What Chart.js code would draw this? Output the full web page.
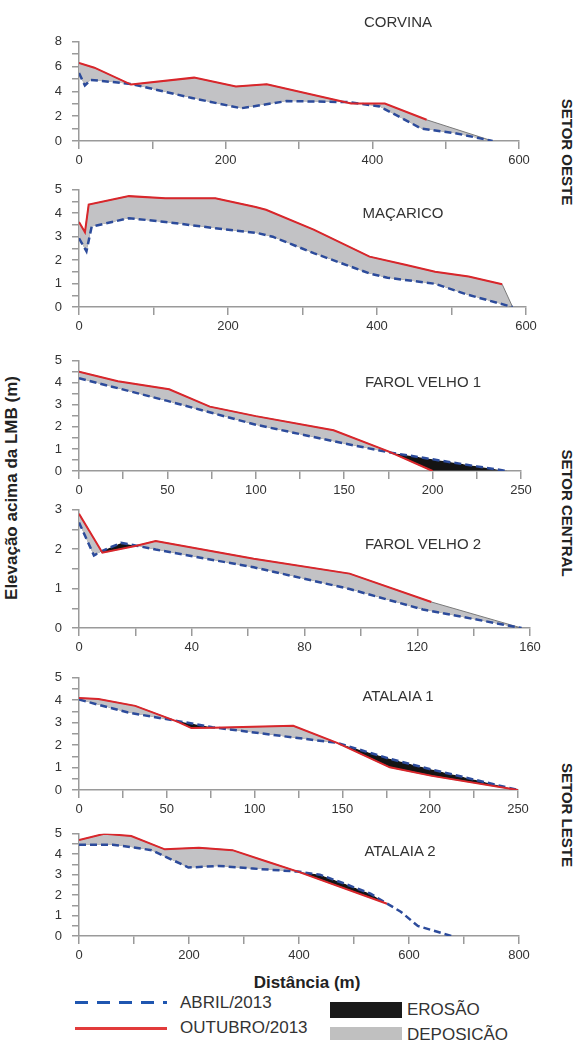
<!DOCTYPE html>
<html>
<head>
<meta charset="utf-8">
<script src="https://cdn.jsdelivr.net/npm/chart.js@4.4.1/dist/chart.umd.min.js"></script>
<style>
  body { margin: 0; background: #fff; font-family: "Liberation Sans", Arial, sans-serif; color: #333; }
  #page { position: relative; width: 579px; height: 1040px; overflow: hidden; }
  .panel { position: absolute; }
  .txt { position: absolute; white-space: nowrap; transform: translate(-50%, -50%); }
  .title { font-size: 15px; color: #333; }
  .side { font-size: 15px; font-weight: bold; color: #222; transform: translate(-50%, -50%) rotate(90deg); }
  .leg { position: absolute; white-space: nowrap; font-size: 17px; color: #333; transform: translateY(-50%); }
</style>
</head>
<body>
<div id="page">
  <div class="panel"><canvas id="c1"></canvas></div>
  <div class="panel"><canvas id="c2"></canvas></div>
  <div class="panel"><canvas id="c3"></canvas></div>
  <div class="panel"><canvas id="c4"></canvas></div>
  <div class="panel"><canvas id="c5"></canvas></div>
  <div class="panel"><canvas id="c6"></canvas></div>

  <div class="txt title" style="left:398px; top:21px;">CORVINA</div>
  <div class="txt title" style="left:403px; top:212px;">MAÇARICO</div>
  <div class="txt title" style="left:423px; top:381px;">FAROL VELHO 1</div>
  <div class="txt title" style="left:423px; top:543px;">FAROL VELHO 2</div>
  <div class="txt title" style="left:398px; top:695px;">ATALAIA 1</div>
  <div class="txt title" style="left:400px; top:850px;">ATALAIA 2</div>

  <div class="txt side" style="left:567px; top:152px;">SETOR OESTE</div>
  <div class="txt side" style="left:567px; top:513px;">SETOR CENTRAL</div>
  <div class="txt side" style="left:567px; top:815px;">SETOR LESTE</div>

  <div class="txt" style="left:12px; top:488px; font-size:17px; font-weight:bold; color:#222; transform:translate(-50%,-50%) rotate(-90deg);">Elevação acima da LMB (m)</div>
  <div class="txt" style="left:307px; top:983px; font-size:17px; font-weight:bold; color:#222;">Distância (m)</div>

  <div style="position:absolute; left:75px; top:1001px; width:92px; height:3px; background:repeating-linear-gradient(to right, #1f56b0 0 13px, transparent 13px 22px);"></div>
  <div style="position:absolute; left:75px; top:1027px; width:92px; height:3px; background:#e23b3b;"></div>
  <div style="position:absolute; left:330px; top:1002px; width:72px; height:16px; background:#1a1a1a;"></div>
  <div style="position:absolute; left:330px; top:1027px; width:72px; height:16px; background:#c0c0c0;"></div>
  <div class="leg" style="left:180px; top:1003px;">ABRIL/2013</div>
  <div class="leg" style="left:180px; top:1028px;">OUTUBRO/2013</div>
  <div class="leg" style="left:407px; top:1010px;">EROSÃO</div>
  <div class="leg" style="left:407px; top:1035px;">DEPOSIÇÃO</div>
</div>

<script>
// Profiles: [distance (m), elevation (m)]
const corvinaAbril = [[0,5.48],[8,4.48],[16,4.93],[71,4.6],[154,3.47],[221,2.64],[283,3.22],[366,3.14],[410,2.79],[467,1.0],[513,0.63],[564,0]];
const corvinaOutubro = [[0,6.29],[21,5.91],[71,4.55],[157,5.11],[214,4.4],[256,4.58],[371,3.02],[417,3.02],[474,1.71]];
const corvinaEnd = [[564,0]];

const macaricoAbril = [[0,2.93],[10,2.38],[17,3.43],[67,3.79],[116,3.63],[183,3.36],[240,3.15],[260,3.0],[315,2.3],[390,1.43],[414,1.25],[478,0.99],[519,0.55],[582,0]];
const macaricoOutubro = [[0,3.63],[8,3.19],[13,4.37],[67,4.73],[116,4.64],[183,4.64],[237,4.27],[251,4.15],[315,3.3],[390,2.15],[438,1.8],[478,1.5],[523,1.3],[568,0.97]];
const macaricoEnd = [[582,0]];

const farol1Abril = [[0,4.21],[50,3.18],[100,2.1],[150,1.25],[175,0.85],[200,0.53],[225,0.21],[242,0]];
const farol1Outubro = [[0,4.51],[22,4.07],[51,3.71],[74,2.92],[100,2.49],[144,1.85],[175,0.89],[200,0]];
const farol1End = [[242,0]];

const farol2Abril = [[0,2.68],[5.3,1.84],[8.3,1.96],[14.9,2.16],[20.4,2.09],[27.2,1.99],[62,1.54],[96,0.99],[122,0.47],[157,0]];
const farol2Outubro = [[0,2.9],[8.3,1.91],[20.4,2.09],[27.2,2.21],[62,1.76],[96,1.38],[125,0.66]];
const farol2End = [[157,0]];

const atalaia1Abril = [[0,4.03],[28,3.45],[55,3.09],[76,2.8],[122,2.34],[147,2.1],[177,1.39],[201,0.91],[250,0]];
const atalaia1Outubro = [[0,4.1],[11,4.06],[32,3.75],[56,3.05],[64,2.76],[76,2.77],[122,2.86],[147,2.1],[177,1.01],[201,0.63],[250,0]];
const atalaia1End = [];

const atalaia2Abril = [[0,4.46],[61,4.46],[95,4.35],[132,4.2],[199,3.35],[254,3.43],[316,3.3],[398,3.15],[438,3.0],[481,2.58],[530,2.07],[561,1.57],[585,1.19],[616,0.49],[677,0]];
const atalaia2Outubro = [[0,4.69],[46,5.0],[95,4.89],[156,4.24],[218,4.32],[279,4.2],[340,3.66],[398,3.15],[560,1.58]];
const atalaia2End = [];

const blue = '#2c4b9b';
const red = '#d9262b';
const grey = '#c2c2c5';
const black = '#141414';
const axisGrey = '#9a9a9a';

const toXY = arr => arr.map(p => ({ x: p[0], y: p[1] }));

function makePanel(id, cfg) {
    const canvas = document.getElementById(id);
    const box = canvas.parentNode;
    const padTop = 10, padRight = 16, yW = 39, xH = 28;
    box.style.left = '40px';
    box.style.top = (cfg.top - padTop) + 'px';
    box.style.width = (cfg.right - 40 + padRight) + 'px';
    box.style.height = (cfg.bottom - cfg.top + padTop + xH) + 'px';

    return new Chart(canvas.getContext('2d'), {
        type: 'line',
        data: {
            datasets: [
                {
                    label: 'OUTUBRO/2013',
                    data: toXY(cfg.outubro),
                    borderColor: red,
                    borderWidth: 2,
                    fill: false
                },
                {
                    label: 'ABRIL/2013',
                    data: toXY(cfg.abril),
                    borderColor: blue,
                    borderWidth: 2.5,
                    borderDash: [7, 4],
                    fill: false
                },
                {
                    // outline of the difference polygon (red profile + closing point)
                    label: 'area',
                    data: toXY(cfg.outubro.concat(cfg.end)),
                    borderColor: '#7a7a7a',
                    borderWidth: 1,
                    backgroundColor: grey,
                    fill: { target: 1, above: grey, below: black }
                }
            ]
        },
        options: {
            animation: false,
            responsive: true,
            maintainAspectRatio: false,
            layout: { padding: { top: padTop, right: padRight, left: 0, bottom: 0 } },
            elements: { point: { radius: 0 }, line: { tension: 0 } },
            plugins: { legend: { display: false }, tooltip: { enabled: false } },
            scales: {
                x: {
                    type: 'linear',
                    min: 0,
                    max: cfg.xMax,
                    afterFit: s => { s.height = xH; },
                    border: { display: true, color: axisGrey, width: 1.5 },
                    grid: { display: true, drawOnChartArea: false, drawTicks: true, tickLength: 8, color: axisGrey, lineWidth: 1.5 },
                    ticks: {
                        stepSize: cfg.xStep,
                        autoSkip: false,
                        maxRotation: 0,
                        padding: 4,
                        color: '#333',
                        font: { family: 'Liberation Sans', size: 13 },
                        callback: v => (Math.abs(v % cfg.xLabel) < 1e-6 ? v : '')
                    }
                },
                y: {
                    min: 0,
                    max: cfg.yMax,
                    afterFit: s => { s.width = yW; },
                    border: { display: true, color: axisGrey, width: 1.5 },
                    grid: { display: true, drawOnChartArea: false, drawTicks: true, tickLength: 7, color: axisGrey, lineWidth: 1.5 },
                    ticks: {
                        stepSize: cfg.yStep,
                        autoSkip: false,
                        padding: 10,
                        color: '#333',
                        font: { family: 'Liberation Sans', size: 13 },
                        callback: v => (Math.abs(v % cfg.yLabel) < 1e-6 ? v : '')
                    }
                }
            }
        }
    });
}

makePanel('c1', { top: 34, bottom: 141, right: 519, xMax: 600, xStep: 100, xLabel: 200, yMax: 8, yStep: 1, yLabel: 2,
    abril: corvinaAbril, outubro: corvinaOutubro, end: corvinaEnd });
makePanel('c2', { top: 182, bottom: 307, right: 526, xMax: 600, xStep: 100, xLabel: 200, yMax: 5, yStep: 0.5, yLabel: 1,
    abril: macaricoAbril, outubro: macaricoOutubro, end: macaricoEnd });
makePanel('c3', { top: 353, bottom: 471, right: 521, xMax: 250, xStep: 25, xLabel: 50, yMax: 5, yStep: 0.5, yLabel: 1,
    abril: farol1Abril, outubro: farol1Outubro, end: farol1End });
makePanel('c4', { top: 502, bottom: 628, right: 530, xMax: 160, xStep: 20, xLabel: 40, yMax: 3, yStep: 0.5, yLabel: 1,
    abril: farol2Abril, outubro: farol2Outubro, end: farol2End });
makePanel('c5', { top: 670, bottom: 790, right: 518, xMax: 250, xStep: 25, xLabel: 50, yMax: 5, yStep: 0.5, yLabel: 1,
    abril: atalaia1Abril, outubro: atalaia1Outubro, end: atalaia1End });
makePanel('c6', { top: 826, bottom: 936, right: 519, xMax: 800, xStep: 100, xLabel: 200, yMax: 5, yStep: 0.5, yLabel: 1,
    abril: atalaia2Abril, outubro: atalaia2Outubro, end: atalaia2End });
</script>
</body>
</html>
